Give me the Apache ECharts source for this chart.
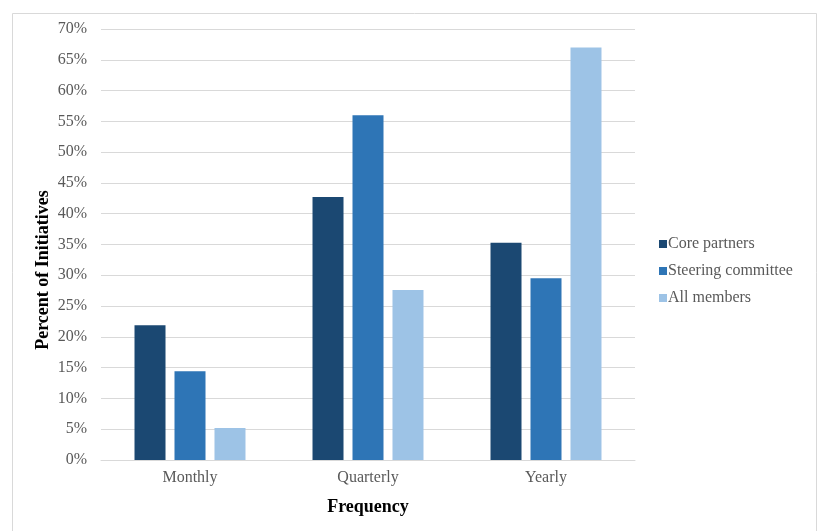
<!DOCTYPE html>
<html>
<head>
<meta charset="utf-8">
<script src="https://cdn.jsdelivr.net/npm/echarts@6/dist/echarts.min.js"></script>
<style>
html,body{margin:0;padding:0;background:#fff;}
#c{width:817px;height:531px;}
</style>
</head>
<body>
<div id="c"></div>
<script>
const categories = ['Monthly', 'Quarterly', 'Yearly'];
const corePartners = [21.9, 42.7, 35.3];
const steeringCommittee = [14.4, 56.0, 29.5];
const allMembers = [5.2, 27.6, 67.0];
const seriesNames = ['Core partners', 'Steering committee', 'All members'];
const yTitle = 'Percent of Initiatives';
const xTitle = 'Frequency';

const chart = echarts.init(document.getElementById('c'), null, {renderer: 'canvas'});
const serif = '"Liberation Serif", "Times New Roman", serif';
chart.setOption({
  animation: false,
  backgroundColor: '#fff',
  graphic: [
    {
      type: 'rect', left: 10, top: 11,
      shape: {width: 804, height: 540},
      style: {fill: 'none', stroke: '#d9d9d9', lineWidth: 1}
    },
    {
      type: 'text', x: 43, y: 270, rotation: Math.PI / 2,
      style: {
        text: yTitle, font: 'bold 18px ' + serif, fill: '#000',
        textAlign: 'center', textVerticalAlign: 'middle'
      }
    }
  ],
  grid: {left: 101, right: 182, top: 29, bottom: 71},
  legend: {
    orient: 'vertical', left: 654, top: 231,
    itemWidth: 8, itemHeight: 8, itemGap: 11,
    icon: 'rect',
    textStyle: {fontFamily: serif, fontSize: 16, color: '#595959', padding: [0,0,0,-4]},
    data: seriesNames
  },
  xAxis: {
    type: 'category', data: categories,
    axisLine: {lineStyle: {color: '#d9d9d9', width: 1}},
    axisTick: {show: false},
    axisLabel: {fontFamily: serif, fontSize: 16, color: '#595959', margin: 10},
    name: xTitle, nameLocation: 'middle', nameGap: 38,
    nameTextStyle: {fontFamily: serif, fontSize: 18, fontWeight: 'bold', color: '#000'}
  },
  yAxis: {
    type: 'value', min: 0, max: 70, interval: 5,
    axisLine: {show: false}, axisTick: {show: false},
    splitLine: {lineStyle: {color: '#d9d9d9', width: 1}},
    axisLabel: {formatter: '{value}%', fontFamily: serif, fontSize: 16, color: '#595959', margin: 14}
  },
  series: [
    {name: seriesNames[0], type: 'bar', data: corePartners, barWidth: 31, barGap: '29%', itemStyle: {color: '#1b4872'}},
    {name: seriesNames[1], type: 'bar', data: steeringCommittee, barWidth: 31, barGap: '29%', itemStyle: {color: '#2e75b6'}},
    {name: seriesNames[2], type: 'bar', data: allMembers, barWidth: 31, barGap: '29%', itemStyle: {color: '#9dc3e6'}}
  ]
});
</script>
</body>
</html>
